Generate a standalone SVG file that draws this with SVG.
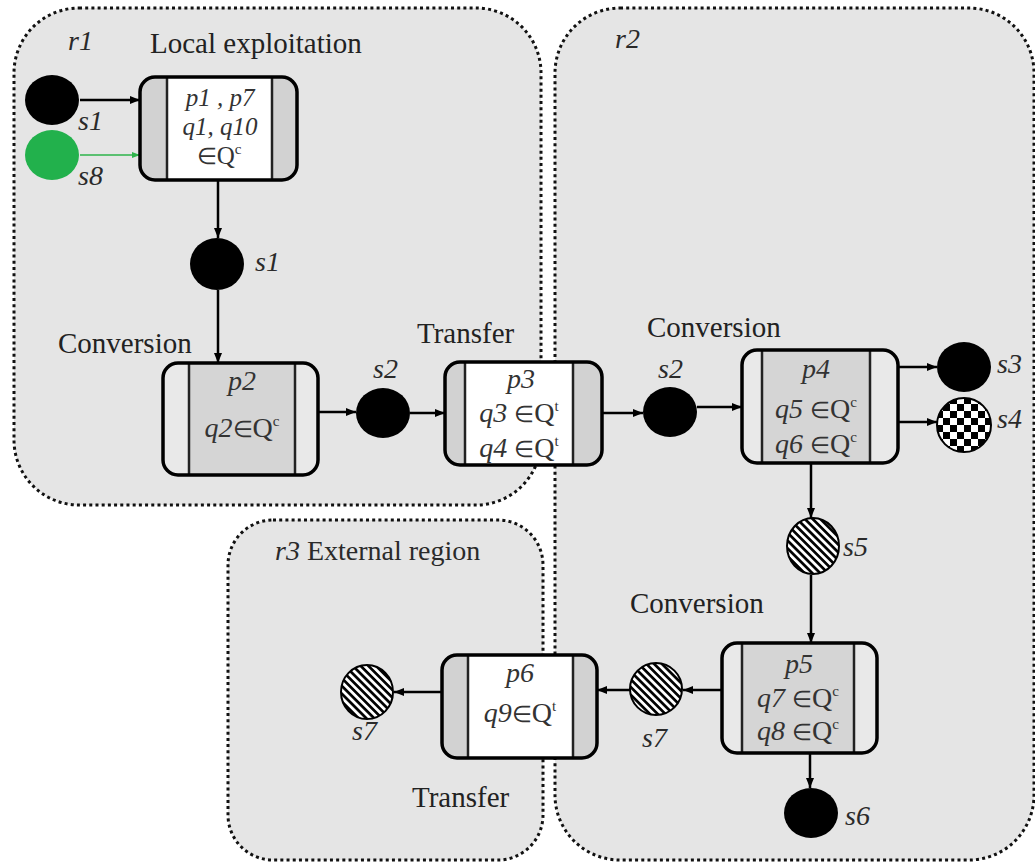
<svg xmlns="http://www.w3.org/2000/svg" width="1035" height="867" viewBox="0 0 1035 867">
<style>
.region{fill:#e5e5e5;stroke:#111;stroke-width:3;stroke-dasharray:3 3.2}
.lbl{font-family:"Liberation Serif","Times New Roman",serif;font-size:28px;fill:#2a2a2a}
.big{font-size:29px;fill:#222}
.it{font-style:italic}
.bt{font-family:"Liberation Serif","Times New Roman",serif;font-size:28px;fill:#333;text-anchor:middle}
.sm{font-size:25px}
.el{font-size:23px;font-style:normal}
.sup{font-size:15px;font-style:normal}
.outline{fill:none;stroke:#000;stroke-width:3.5}
.div{stroke:#222;stroke-width:2.5}
.bandT{fill:#d2d2d2}
.midT{fill:#fff}
.bandC{fill:#e9e9e9}
.midC{fill:#d5d5d5}
.conn{stroke:#000;stroke-width:2.5;fill:none;marker-end:url(#ah)}
.conng{stroke:#2db34a;stroke-width:1.5;fill:none;marker-end:url(#ahg)}
.st{fill:#000}
.hat{fill:url(#stripes);stroke:#000;stroke-width:2}
</style>
<defs>
<marker id="ah" markerWidth="10" markerHeight="8" refX="10" refY="4" orient="auto" markerUnits="userSpaceOnUse"><path d="M0,0 L10,4 L0,8 z" fill="#000"/></marker>
<marker id="ahg" markerWidth="8" markerHeight="6" refX="8" refY="3" orient="auto" markerUnits="userSpaceOnUse"><path d="M0,0 L8,3 L0,6 z" fill="#2db34a"/></marker>
<pattern id="checker" x="936" y="397" width="14" height="14" patternUnits="userSpaceOnUse"><rect width="14" height="14" fill="#fff"/><rect width="7" height="7" fill="#000"/><rect x="7" y="7" width="7" height="7" fill="#000"/></pattern>
<pattern id="stripes" width="5.5" height="5.5" patternUnits="userSpaceOnUse" patternTransform="rotate(45)"><rect width="5.5" height="5.5" fill="#fff"/><rect width="5.5" height="2.7" fill="#000"/></pattern>
</defs>
<rect width="1035" height="867" fill="#fff"/>
<g id="regions">
<rect id="r1" class="region" x="14" y="8" width="527" height="497" rx="65" ry="65"/>
<rect id="r2" class="region" x="555" y="8" width="479" height="852" rx="65" ry="65"/>
<rect id="r3" class="region" x="228" y="520" width="315" height="340" rx="45" ry="45"/>
</g>
<g id="region-labels">
<text class="lbl it" x="68" y="50">r1</text>
<text class="lbl big" x="150" y="53">Local exploitation</text>
<text class="lbl it" x="615" y="48">r2</text>
<text class="lbl" x="275" y="560"><tspan class="it">r3</tspan> External region</text>
<text class="lbl big" x="58" y="353">Conversion</text>
<text class="lbl big" x="417" y="343">Transfer</text>
<text class="lbl big" x="647" y="337">Conversion</text>
<text class="lbl big" x="630" y="613">Conversion</text>
<text class="lbl big" x="412" y="807">Transfer</text>
</g>
<g id="connectors">
<path class="conn" d="M80,100 H140"/>
<path class="conng" d="M80,155 H140"/>
<path class="conn" d="M218,180 V238"/>
<path class="conn" d="M218,290 V363"/>
<path class="conn" d="M318,412 H356"/>
<path class="conn" d="M410,413 H445"/>
<path class="conn" d="M602,413 H643"/>
<path class="conn" d="M697,407 H742"/>
<path class="conn" d="M898,367 H937"/>
<path class="conn" d="M898,422 H937"/>
<path class="conn" d="M811,463 V518"/>
<path class="conn" d="M811,575 V643"/>
<path class="conn" d="M810,753 V788"/>
<path class="conn" d="M722,690 H683"/>
<path class="conn" d="M630,690 H597"/>
<path class="conn" d="M442,692 H394"/>
</g>
<g id="p1">
<rect class="bandT" x="140" y="77" width="157" height="103" rx="15"/>
<rect class="midT" x="167" y="77" width="105" height="103"/>
<line class="div" x1="167" y1="77" x2="167" y2="180"/>
<line class="div" x1="272" y1="77" x2="272" y2="180"/>
<rect class="outline" x="140" y="77" width="157" height="103" rx="15"/>
<text class="bt it sm" x="220" y="106">p1 , p7</text>
<text class="bt it sm" x="220" y="135">q1, q10</text>
<text class="bt sm" x="219" y="164"><tspan class="el">∈</tspan>Q<tspan class="sup" dy="-10">c</tspan></text>
</g>
<g id="p2">
<rect class="bandC" x="163" y="363" width="155" height="112" rx="15"/>
<rect class="midC" x="189" y="363" width="106" height="112"/>
<line class="div" x1="189" y1="363" x2="189" y2="475"/>
<line class="div" x1="295" y1="363" x2="295" y2="475"/>
<rect class="outline" x="163" y="363" width="155" height="112" rx="15"/>
<text class="bt it" x="242" y="390">p2</text>
<text class="bt" x="242" y="437"><tspan class="it">q2</tspan><tspan class="el">∈</tspan>Q<tspan class="sup" dy="-11">c</tspan></text>
</g>
<g id="p3">
<rect class="bandT" x="445" y="362" width="157" height="103" rx="15"/>
<rect class="midT" x="465" y="362" width="108" height="103"/>
<line class="div" x1="465" y1="362" x2="465" y2="465"/>
<line class="div" x1="573" y1="362" x2="573" y2="465"/>
<rect class="outline" x="445" y="362" width="157" height="103" rx="15"/>
<text class="bt it" x="521" y="388">p3</text>
<text class="bt" x="519" y="422"><tspan class="it">q3</tspan> <tspan class="el">∈</tspan>Q<tspan class="sup" dy="-11">t</tspan></text>
<text class="bt" x="519" y="457"><tspan class="it">q4</tspan> <tspan class="el">∈</tspan>Q<tspan class="sup" dy="-11">t</tspan></text>
</g>
<g id="p4">
<rect class="bandC" x="742" y="350" width="156" height="113" rx="15"/>
<rect class="midC" x="762" y="350" width="108" height="113"/>
<line class="div" x1="762" y1="350" x2="762" y2="463"/>
<line class="div" x1="870" y1="350" x2="870" y2="463"/>
<rect class="outline" x="742" y="350" width="156" height="113" rx="15"/>
<text class="bt it" x="816" y="378">p4</text>
<text class="bt" x="816" y="418"><tspan class="it">q5</tspan> <tspan class="el">∈</tspan>Q<tspan class="sup" dy="-11">c</tspan></text>
<text class="bt" x="816" y="453"><tspan class="it">q6</tspan> <tspan class="el">∈</tspan>Q<tspan class="sup" dy="-11">c</tspan></text>
</g>
<g id="p5">
<rect class="bandC" x="722" y="643" width="155" height="110" rx="15"/>
<rect class="midC" x="742" y="643" width="112" height="110"/>
<line class="div" x1="742" y1="643" x2="742" y2="753"/>
<line class="div" x1="854" y1="643" x2="854" y2="753"/>
<rect class="outline" x="722" y="643" width="155" height="110" rx="15"/>
<text class="bt it" x="799" y="673">p5</text>
<text class="bt" x="798" y="707"><tspan class="it">q7</tspan> <tspan class="el">∈</tspan>Q<tspan class="sup" dy="-11">c</tspan></text>
<text class="bt" x="798" y="740"><tspan class="it">q8</tspan> <tspan class="el">∈</tspan>Q<tspan class="sup" dy="-11">c</tspan></text>
</g>
<g id="p6">
<rect class="bandT" x="442" y="655" width="155" height="103" rx="15"/>
<rect class="midT" x="468" y="655" width="105" height="103"/>
<line class="div" x1="468" y1="655" x2="468" y2="758"/>
<line class="div" x1="573" y1="655" x2="573" y2="758"/>
<rect class="outline" x="442" y="655" width="155" height="103" rx="15"/>
<text class="bt it" x="520" y="682">p6</text>
<text class="bt" x="520" y="722"><tspan class="it">q9</tspan><tspan class="el">∈</tspan>Q<tspan class="sup" dy="-11">t</tspan></text>
</g>
<g id="s1-in"><ellipse class="st" cx="52" cy="100" rx="27" ry="25"/><text class="lbl it" x="78" y="130">s1</text></g>
<g id="s8-in"><ellipse cx="52" cy="155" rx="27" ry="25" fill="#22b14c"/><text class="lbl it" x="78" y="185">s8</text></g>
<g id="s1-out"><ellipse class="st" cx="217" cy="264" rx="27" ry="26"/><text class="lbl it" x="255" y="271">s1</text></g>
<g id="s2-a"><ellipse class="st" cx="383" cy="413" rx="27" ry="25"/><text class="lbl it" x="373" y="378">s2</text></g>
<g id="s2-b"><ellipse class="st" cx="670" cy="412" rx="27" ry="25"/><text class="lbl it" x="658" y="378">s2</text></g>
<g id="s3"><ellipse class="st" cx="964" cy="367" rx="27" ry="25"/><text class="lbl it" x="997" y="373">s3</text></g>
<g id="s4"><ellipse cx="964" cy="425" rx="27" ry="27" fill="url(#checker)" stroke="#000" stroke-width="2"/><text class="lbl it" x="997" y="428">s4</text></g>
<g id="s5"><ellipse class="hat" cx="813" cy="546" rx="26" ry="28"/><text class="lbl it" x="843" y="556">s5</text></g>
<g id="s6"><ellipse class="st" cx="811" cy="813" rx="27" ry="25"/><text class="lbl it" x="845" y="825">s6</text></g>
<g id="s7-b"><ellipse class="hat" cx="656" cy="689" rx="26" ry="26"/><text class="lbl it" x="642" y="747">s7</text></g>
<g id="s7-a"><ellipse class="hat" cx="367" cy="692" rx="26" ry="27"/><text class="lbl it" x="352" y="740">s7</text></g>
</svg>
